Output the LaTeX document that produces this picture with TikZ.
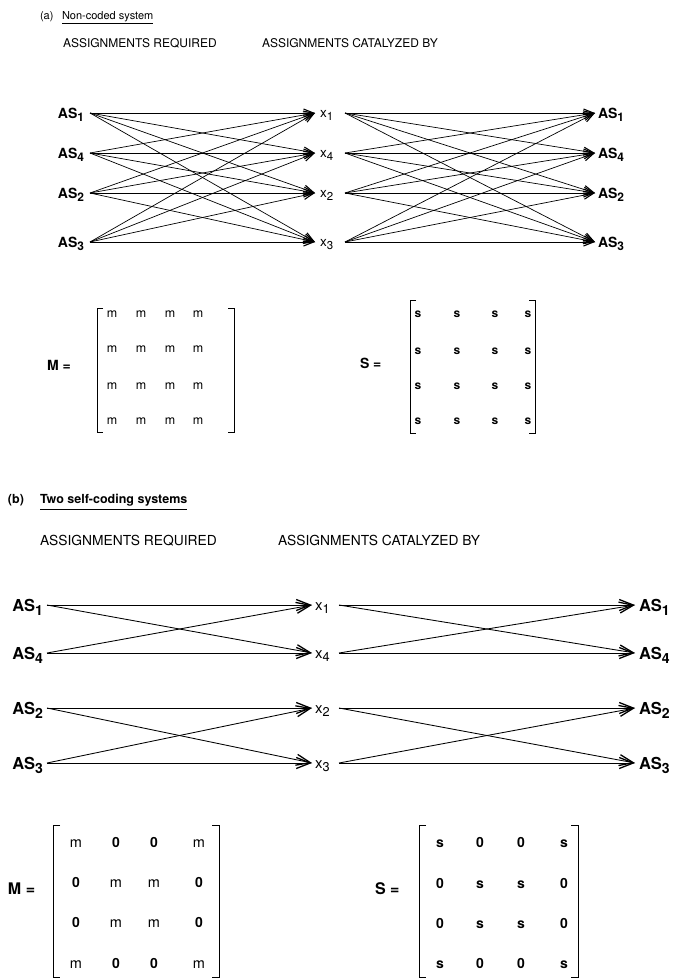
\documentclass[tikz,border=0pt]{standalone}
\usepackage{fontspec}
\setmainfont{TeX Gyre Heros}
\usepackage{graphicx}
\usetikzlibrary{arrows.meta}
\newcommand\dn[1]{\raisebox{-0.5ex}{\scalebox{0.85}{#1}}}
\newcommand\fs[1]{\fontsize{#1}{#1}\selectfont}
\begin{document}
\begin{tikzpicture}[x=1pt,y=-1pt,
  every node/.style={inner sep=0pt, outer sep=0pt},
  ttl/.style={anchor=base west, font=\fs{11}},
  ttlb/.style={anchor=base west, font=\fs{12.5}\bfseries},
  hda/.style={anchor=base west, font=\fs{12}},
  hdb/.style={anchor=base west, font=\fs{13.8}},
  asa/.style={font=\fs{14}\bfseries},
  asb/.style={font=\fs{16.5}\bfseries},
  xa/.style={font=\fs{13.5}},
  xb/.style={font=\fs{15}},
  ca/.style={line width=0.7pt, -{Straight Barb[length=10pt,width=8pt,line width=1.1pt]}},
  cb/.style={line width=0.85pt, -{Straight Barb[length=14pt,width=11pt,line width=1.3pt]}},
  brk/.style={line width=0.9pt},
  enta/.style={anchor=base, font=\fs{12.5}},
  ents/.style={anchor=base, font=\fs{12}\bfseries},
  entb/.style={anchor=base, font=\fs{14.5}},
  entbs/.style={anchor=base, font=\fs{14}\bfseries},
  eqa/.style={anchor=base west, font=\fs{14}\bfseries},
  eqb/.style={anchor=base west, font=\fs{16}\bfseries},
]
\fill[white] (0,0) rectangle (674,978);
\useasboundingbox (0,0) rectangle (674,978);

% ---------------- Part (a) ----------------
\node[ttl] (ta) at (40,19) {(a)};
\node[ttl] (tna) at (62,19) {Non-coded system};
\draw[line width=0.7pt] ([yshift=-4pt]tna.base west) -- ([yshift=-4pt]tna.base east);
\node[hda] (hra) at (63,47) {ASSIGNMENTS REQUIRED};
\node[hda] (hca) at (262,47) {ASSIGNMENTS CATALYZED BY};

\foreach \n/\yy in {1/113,4/153,2/193,3/242}{
  \node[asa, anchor=base east] (LA\n) at (84,\yy+5) {AS\dn{\n}};
  \coordinate (LAp\n) at (90,\yy);
  \coordinate (XAin\n) at (315,\yy);
  \node[xa, anchor=base west] (XA\n) at (320,\yy+4) {x\dn{\n}};
  \coordinate (XAout\n) at (345,\yy);
  \coordinate (RAin\n) at (595,\yy);
  \node[asa, anchor=base west] (RA\n) at (598,\yy+5) {AS\dn{\n}};
}
\foreach \i in {1,2,3,4}{
  \foreach \j in {1,2,3,4}{
    \draw[ca] (LAp\i) -- (XAin\j);
    \draw[ca] (XAout\j) -- (RAin\i);
  }
}

% matrices (a)
\node[eqa] (Ma) at (47,370) {M =};
\draw[brk] (103,308) -- (97,308) -- (97,432) -- (103,432);
\draw[brk] (228,308) -- (234,308) -- (234,432) -- (228,432);
\foreach \r/\yy in {1/317,2/352,3/389,4/424}{
  \foreach \c/\xx in {1/112,2/141,3/170,4/198}{
    \node[enta] (Ma\r\c) at (\xx,\yy) {m};
  }
}
\node[eqa] (Sa) at (360,368) {S =};
\draw[brk] (416,300) -- (410,300) -- (410,433) -- (416,433);
\draw[brk] (529,300) -- (535,300) -- (535,433) -- (529,433);
\foreach \r/\yy in {1/317,2/354,3/389,4/424}{
  \foreach \c/\xx in {1/418,2/457,3/495,4/528}{
    \node[ents] (Sa\r\c) at (\xx,\yy) {s};
  }
}

% ---------------- Part (b) ----------------
\node[ttlb] (tb) at (8,503) {(b)};
\node[ttlb] (tnb) at (40,503) {Two self-coding systems};
\draw[line width=0.8pt] ([yshift=-6pt]tnb.base west) -- ([yshift=-6pt]tnb.base east);
\node[hdb] (hrb) at (40,545) {ASSIGNMENTS REQUIRED};
\node[hdb] (hcb) at (278,545) {ASSIGNMENTS CATALYZED BY};

\foreach \n/\yy in {1/605,4/653,2/708,3/763}{
  \node[asb, anchor=base east] (LB\n) at (43,\yy+6) {AS\dn{\n}};
  \coordinate (LBp\n) at (47,\yy);
  \coordinate (XBin\n) at (312,\yy);
  \node[xb, anchor=base west] (XB\n) at (315,\yy+5) {x\dn{\n}};
  \coordinate (XBout\n) at (339,\yy);
  \coordinate (RBin\n) at (635,\yy);
  \node[asb, anchor=base west] (RB\n) at (639,\yy+6) {AS\dn{\n}};
}
\foreach \i/\j in {1/1,1/4,4/1,4/4,2/2,2/3,3/2,3/3}{
  \draw[cb] (LBp\i) -- (XBin\j);
  \draw[cb] (XBout\j) -- (RBin\i);
}

% matrices (b)
\node[eqb] (Mb) at (8,894) {M =};
\draw[brk] (60,825) -- (53,825) -- (53,977) -- (60,977);
\draw[brk] (212,825) -- (219,825) -- (219,977) -- (212,977);
\foreach \r/\yy in {1/847,2/887,3/927,4/968}{
  \foreach \c/\xx in {1/76,2/116,3/154,4/199}{
    \pgfmathtruncatemacro\isd{((\r==\c)||(\r+\c==5))?1:0}
    \ifnum\isd=1
      \node[entb] (Mb\r\c) at (\xx,\yy) {m};
    \else
      \node[entbs] (Mb\r\c) at (\xx,\yy) {0};
    \fi
  }
}
\node[eqb] (Sb) at (375,894) {S =};
\draw[brk] (426,825) -- (419,825) -- (419,977) -- (426,977);
\draw[brk] (571,825) -- (578,825) -- (578,977) -- (571,977);
\foreach \r/\yy in {1/847,2/888,3/928,4/968}{
  \foreach \c/\xx in {1/440,2/480,3/521,4/564}{
    \pgfmathtruncatemacro\isd{((\r==\c)||(\r+\c==5))?1:0}
    \ifnum\isd=1
      \node[entbs] (Sb\r\c) at (\xx,\yy) {s};
    \else
      \node[entbs] (Sb\r\c) at (\xx,\yy) {0};
    \fi
  }
}
\end{tikzpicture}
\end{document}
